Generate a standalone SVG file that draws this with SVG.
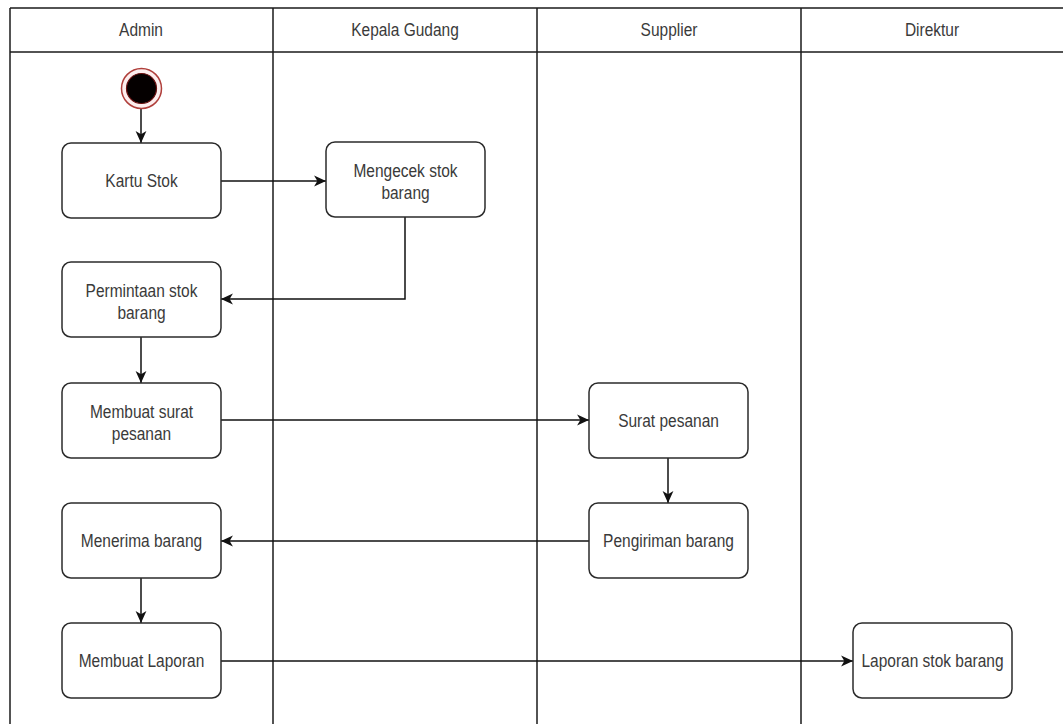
<svg xmlns="http://www.w3.org/2000/svg" width="1063" height="724" viewBox="0 0 1063 724">
  <style>
    .lane { stroke: #1a1a1a; stroke-width: 1.5; fill: none; }
    .act { fill: #ffffff; stroke: #2b2b2b; stroke-width: 1.5; }
    .lbl { font-family: "Liberation Sans", Arial, sans-serif; font-size: 15.5px; fill: #3a3a3a; text-anchor: middle; }
    .edge { stroke: #111111; stroke-width: 1.5; fill: none; marker-end: url(#arrow); }
  </style>
  <defs>
    <marker id="arrow" markerUnits="userSpaceOnUse" markerWidth="13" markerHeight="12" viewBox="0 0 12 10" refX="11" refY="5" orient="auto">
      <path d="M0,0 L11,5 L0,10 L3,5 Z" fill="#111111"/>
    </marker>
  </defs>

  <rect width="1063" height="724" fill="#ffffff"/>

  <!-- swimlanes -->
  <g id="lanes">
    <line class="lane" x1="10" y1="8" x2="1063" y2="8"/>
    <line class="lane" x1="10" y1="52" x2="1063" y2="52"/>
    <line class="lane" x1="10" y1="8" x2="10" y2="724"/>
    <line class="lane" x1="273" y1="8" x2="273" y2="724"/>
    <line class="lane" x1="537" y1="8" x2="537" y2="724"/>
    <line class="lane" x1="801" y1="8" x2="801" y2="724"/>
    <text class="lbl" transform="translate(141,36) scale(1,1.22)">Admin</text>
    <text class="lbl" transform="translate(405,36) scale(1,1.22)">Kepala Gudang</text>
    <text class="lbl" transform="translate(669,36) scale(1,1.22)">Supplier</text>
    <text class="lbl" transform="translate(932,36) scale(1,1.22)">Direktur</text>
  </g>

  <!-- connectors -->
  <g id="connectors">
    <path class="edge" d="M141,109 L141,143"/>
    <path class="edge" d="M221,181 L326,181"/>
    <path class="edge" d="M405,217 L405,299 L221,299"/>
    <path class="edge" d="M141,337 L141,383"/>
    <path class="edge" d="M221,420 L589,420"/>
    <path class="edge" d="M668,458 L668,503"/>
    <path class="edge" d="M589,541 L221,541"/>
    <path class="edge" d="M141,578 L141,623"/>
    <path class="edge" d="M221,661 L853,661"/>
  </g>

  <!-- start -->
  <g id="start">
    <circle cx="141.5" cy="88.5" r="20" fill="#fdeeee" stroke="#b0403c" stroke-width="1.5"/>
    <circle cx="141.5" cy="88.5" r="15" fill="#050000" stroke="#6a1010" stroke-width="1.2"/>
  </g>

  <g id="kartu-stok">
    <rect class="act" x="62" y="143" width="159" height="75" rx="9"/>
    <text class="lbl" transform="translate(141.5,187) scale(1,1.22)">Kartu Stok</text>
  </g>

  <g id="mengecek-stok">
    <rect class="act" x="326" y="142" width="159" height="75" rx="9"/>
    <text class="lbl" transform="translate(405.5,177) scale(1,1.22)">Mengecek stok</text>
    <text class="lbl" transform="translate(405.5,199) scale(1,1.22)">barang</text>
  </g>

  <g id="permintaan-stok">
    <rect class="act" x="62" y="262" width="159" height="75" rx="9"/>
    <text class="lbl" transform="translate(141.5,297) scale(1,1.22)">Permintaan stok</text>
    <text class="lbl" transform="translate(141.5,319) scale(1,1.22)">barang</text>
  </g>

  <g id="membuat-surat">
    <rect class="act" x="62" y="383" width="159" height="75" rx="9"/>
    <text class="lbl" transform="translate(141.5,418) scale(1,1.22)">Membuat surat</text>
    <text class="lbl" transform="translate(141.5,440) scale(1,1.22)">pesanan</text>
  </g>

  <g id="surat-pesanan">
    <rect class="act" x="589" y="383" width="159" height="75" rx="9"/>
    <text class="lbl" transform="translate(668.5,427) scale(1,1.22)">Surat pesanan</text>
  </g>

  <g id="pengiriman-barang">
    <rect class="act" x="589" y="503" width="159" height="75" rx="9"/>
    <text class="lbl" transform="translate(668.5,547) scale(1,1.22)">Pengiriman barang</text>
  </g>

  <g id="menerima-barang">
    <rect class="act" x="62" y="503" width="159" height="75" rx="9"/>
    <text class="lbl" transform="translate(141.5,547) scale(1,1.22)">Menerima barang</text>
  </g>

  <g id="membuat-laporan">
    <rect class="act" x="62" y="623" width="159" height="75" rx="9"/>
    <text class="lbl" transform="translate(141.5,667) scale(1,1.22)">Membuat Laporan</text>
  </g>

  <g id="laporan-stok">
    <rect class="act" x="853" y="623" width="159" height="75" rx="9"/>
    <text class="lbl" transform="translate(932.5,667) scale(1,1.22)">Laporan stok barang</text>
  </g>
</svg>
